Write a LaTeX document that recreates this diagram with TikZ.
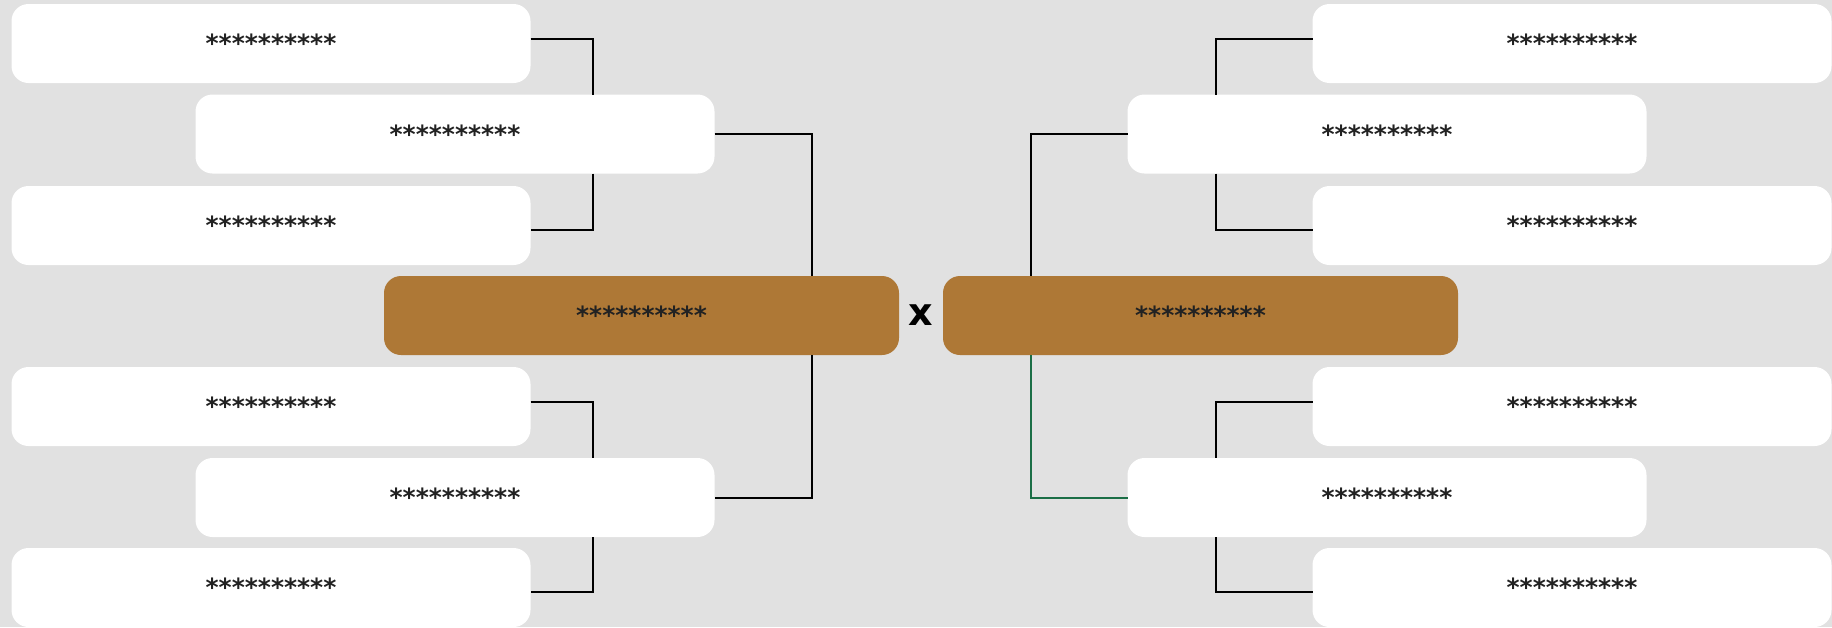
\documentclass[tikz,border=0pt]{standalone}
\usepackage{fontspec}
\setmainfont{DejaVu Sans}
\definecolor{bg}{HTML}{E1E1E1}
\definecolor{gold}{HTML}{AE7836}
\definecolor{txt}{HTML}{222222}
\definecolor{win}{HTML}{1B6E46}
\begin{document}
\begin{tikzpicture}[x=1pt,y=-1pt,
  slot/.style={rectangle, rounded corners=17pt, fill=white, minimum width=519pt,
    minimum height=79pt, inner sep=0pt, outer sep=0pt, text=txt,
    font=\bfseries\fontsize{25}{30}\selectfont},
  final/.style={slot, fill=gold, minimum width=515pt},
  wire/.style={line width=2pt, black}]
\fill[bg] (0,0) rectangle (1832,627);
\useasboundingbox (0,0) rectangle (1832,627);

% left half
\node[slot] (l1) at (271,43.5) {**********};
\node[slot] (l2) at (455,134) {**********};
\node[slot] (l3) at (271,225.5) {**********};
\node[final] (lf) at (641.5,315.5) {**********};
\node[slot] (l5) at (271,406.5) {**********};
\node[slot] (l6) at (455,497.5) {**********};
\node[slot] (l7) at (271,587.5) {**********};

% right half
\node[slot] (r1) at (1572,43.5) {**********};
\node[slot] (r2) at (1387,134) {**********};
\node[slot] (r3) at (1572,225.5) {**********};
\node[final] (rf) at (1200.5,315.5) {**********};
\node[slot] (r5) at (1572,406.5) {**********};
\node[slot] (r6) at (1387,497.5) {**********};
\node[slot] (r7) at (1572,587.5) {**********};

\node[font=\bfseries\fontsize{38}{40}\selectfont] (vs) at (921,315.5) {x};

\coordinate (lo) at (593,0);
\coordinate (li) at (812,0);
\coordinate (ri) at (1031,0);
\coordinate (ro) at (1216,0);

\path[draw,wire] ([yshift=4.5pt]l1.east) -| (lo |- l2.north);
\path[draw,wire] (lo |- l2.south) |- ([yshift=-4.5pt]l3.east);
\path[draw,wire] (l2.east) -| (li |- lf.north);
\path[draw,wire] (li |- lf.south) |- (l6.east);
\path[draw,wire] ([yshift=4.5pt]l5.east) -| (lo |- l6.north);
\path[draw,wire] (lo |- l6.south) |- ([yshift=-4.5pt]l7.east);

\path[draw,wire] ([yshift=4.5pt]r1.west) -| (ro |- r2.north);
\path[draw,wire] (ro |- r2.south) |- ([yshift=-4.5pt]r3.west);
\path[draw,wire] (r2.west) -| (ri |- rf.north);
\path[draw,wire,win] (ri |- rf.south) |- (r6.west);
\path[draw,wire] ([yshift=4.5pt]r5.west) -| (ro |- r6.north);
\path[draw,wire] (ro |- r6.south) |- ([yshift=-4.5pt]r7.west);
\end{tikzpicture}
\end{document}
